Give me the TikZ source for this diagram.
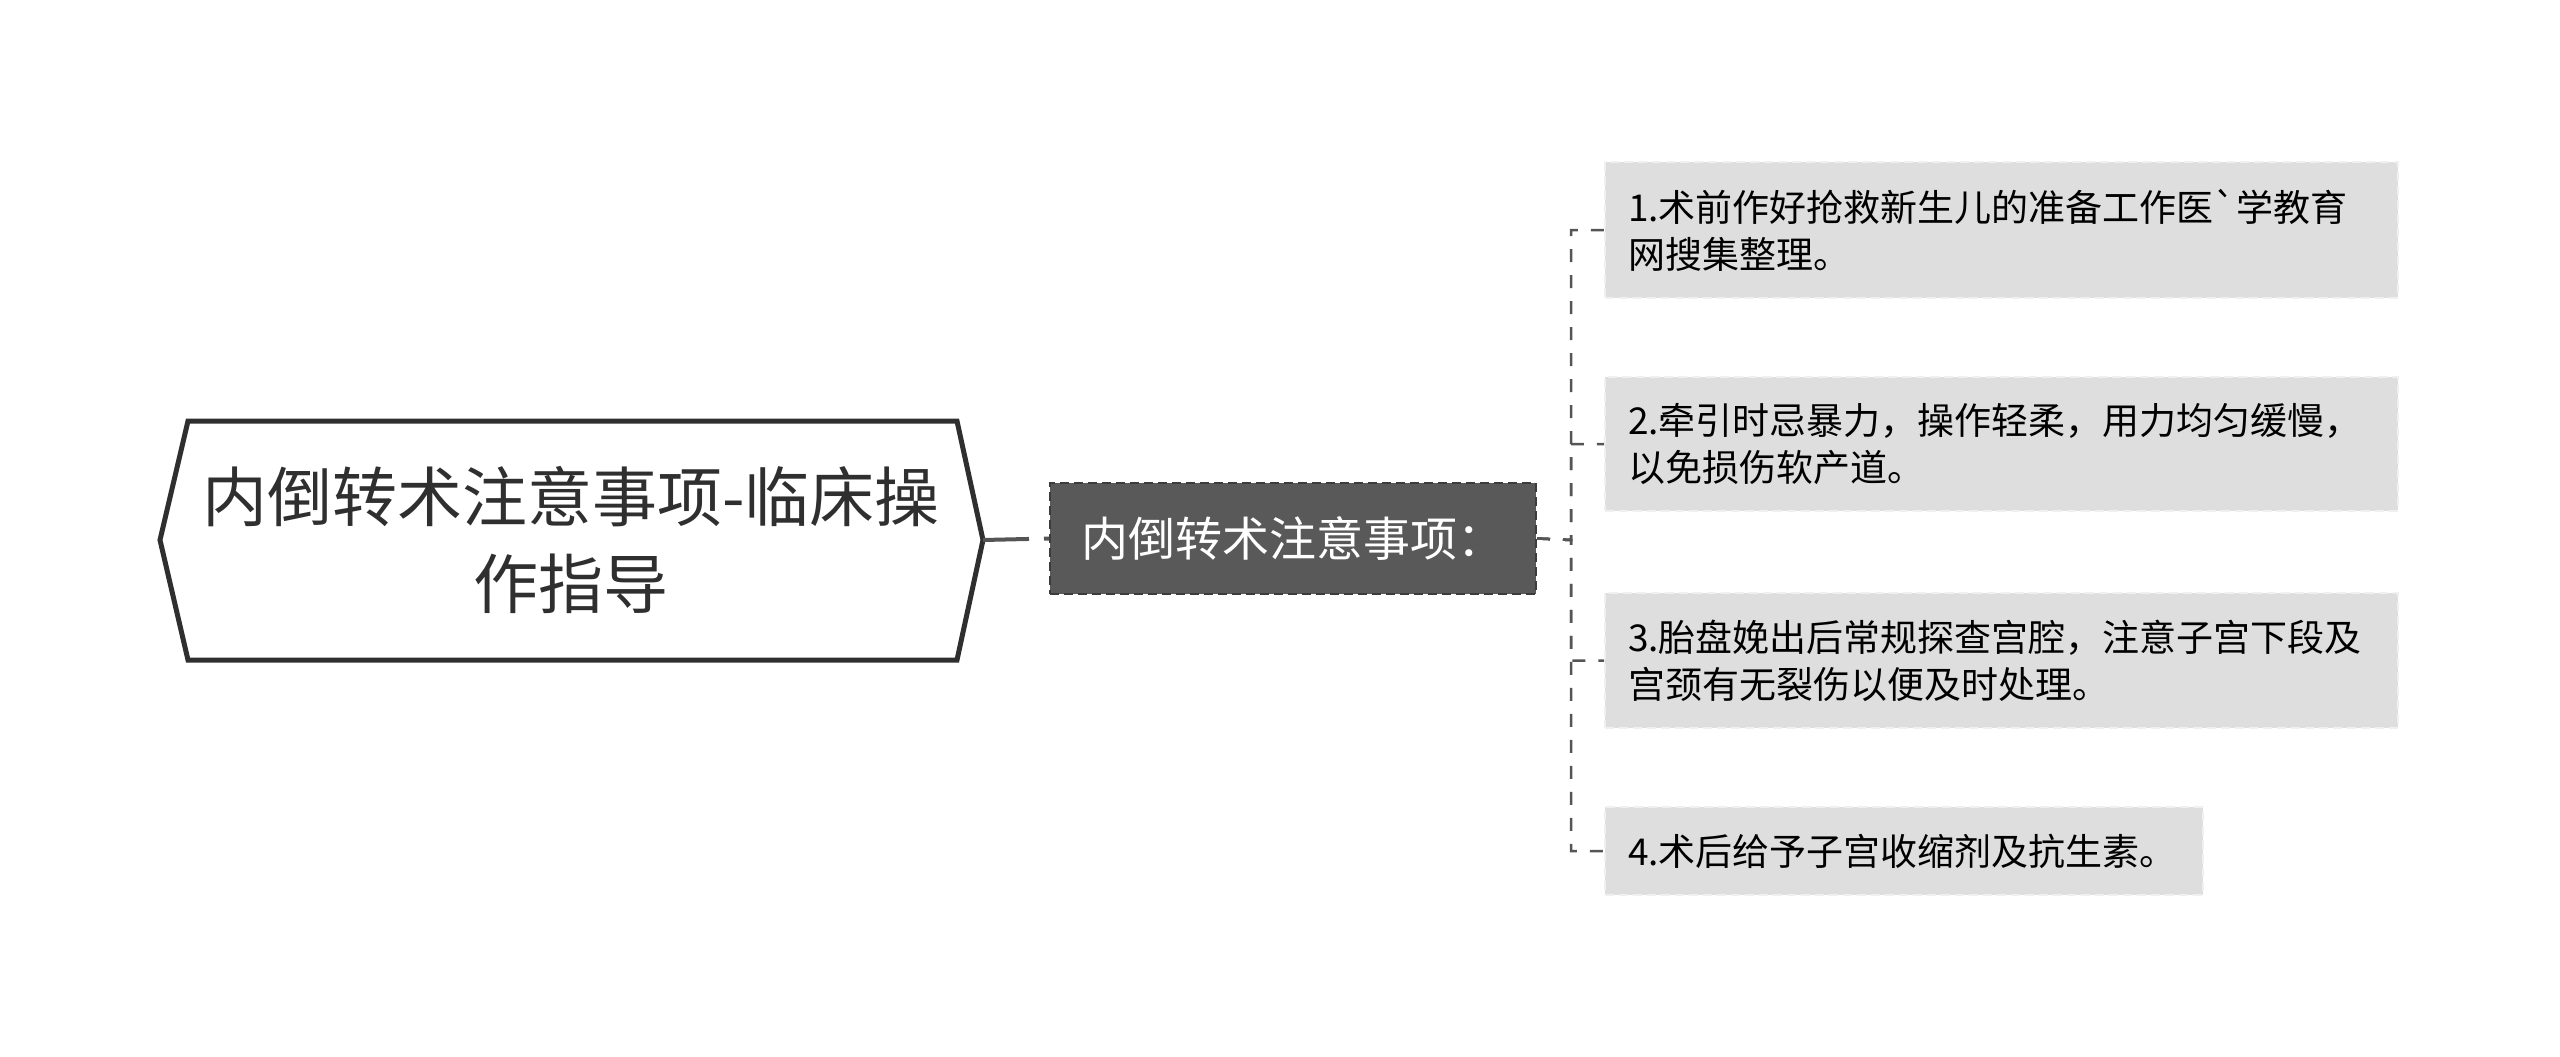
\documentclass[tikz,border=0pt]{standalone}
\usepackage{fontspec}
\setmainfont{Noto Sans CJK SC}[Ligatures=TeXOff]
\definecolor{rootline}{HTML}{2F2F2F}
\definecolor{midfill}{HTML}{595959}
\definecolor{midline}{HTML}{3C3C3C}
\definecolor{leaffill}{HTML}{DEDEDE}
\definecolor{leafline}{HTML}{F0F0F0}
\definecolor{conn}{HTML}{555555}
\tikzset{
  rootshape/.style={draw=rootline, line width=5pt, fill=white, line join=miter},
  midbox/.style={draw=midline, line width=2pt, dash pattern=on 9pt off 5pt, fill=midfill,
    text=white, font=\fontsize{47pt}{56pt}\selectfont, inner sep=0pt,
    minimum width=486pt, minimum height=111pt},
  leafbox/.style={draw=leafline, line width=2pt, dash pattern=on 9pt off 5pt, fill=leaffill,
    text=black, font=\fontsize{37pt}{47pt}\selectfont, inner sep=0pt, align=left},
  leafconn/.style={draw=conn, line width=2.5pt, dash pattern=on 13pt off 13pt},
}
\begin{document}
\begin{tikzpicture}[x=1pt,y=-1pt]
\useasboundingbox (0,0) rectangle (2560,1057);
% root hexagon
\draw[rootshape] (160,540) -- (188,421) -- (957,421) -- (983,540) -- (957,660) -- (188,660) -- cycle;
\coordinate (rootE) at (983,540);
\node[font=\fontsize{65pt}{87pt}\selectfont, align=center, text=rootline] (root) at (571,540)
  {内倒转术注意事项-临床操\\作指导};
% middle node
\node[midbox] (mid) at (1293,538.5) {内倒转术注意事项：};
% leaves
\node[leafbox, minimum width=793pt, minimum height=136pt, text width=747pt] (l1) at (2001.5,230)
  {1.术前作好抢救新生儿的准备工作医`学教育\\网搜集整理。};
\node[leafbox, minimum width=793pt, minimum height=134pt, text width=747pt] (l2) at (2001.5,444)
  {2.牵引时忌暴力，操作轻柔，用力均匀缓慢，\\以免损伤软产道。};
\node[leafbox, minimum width=793pt, minimum height=135pt, text width=747pt] (l3) at (2001.5,660.5)
  {3.胎盘娩出后常规探查宫腔，注意子宫下段及\\宫颈有无裂伤以便及时处理。};
\node[leafbox, minimum width=598pt, minimum height=88pt, text width=552pt] (l4) at (1904,851)
  {4.术后给予子宫收缩剂及抗生素。};
% connectors
\draw[draw=conn, line width=4pt, dash pattern=on 46pt off 15pt on 8pt off 0pt] (rootE) -- (mid.west);
\coordinate (bus) at (1571,540);
\foreach \l in {l1,l2,l3,l4}{
  \draw[leafconn] (mid.east) -- (bus) |- (\l.west);
}
\end{tikzpicture}
\end{document}
